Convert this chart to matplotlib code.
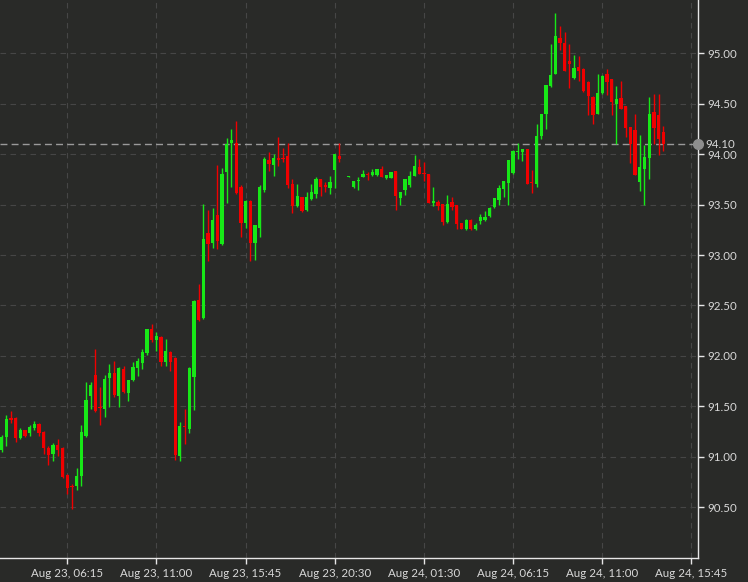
import numpy as np
import matplotlib
matplotlib.use('Agg')
import matplotlib.pyplot as plt

# 15 minute candles (index 73 has no candle)
opens = [91.07, 91.20, 91.38, 91.38, 91.19, 91.26, 91.23, 91.28, 91.32, 91.24,
         91.09, 91.03, 91.12, 91.09, 90.82, 90.71, 90.71, 90.81, 91.21, 91.60,
         91.81, 91.49, 91.47, 91.78, 91.83, 91.60, 91.87, 91.63, 91.76, 91.88,
         91.93, 92.03, 92.27, 92.16, 92.19, 91.94, 92.04, 91.98, 91.01, 91.30,
         91.27, 91.79, 92.55, 92.38, 93.22, 93.12, 93.40, 93.11, 93.82, 94.11,
         94.11, 93.68, 93.32, 93.54, 93.12, 93.27, 93.65, 93.94, 93.89, 93.96,
         93.96, 93.98, 93.70, 93.49, 93.58, 93.45, 93.56, 93.61, 93.75, 93.69,
         93.67, 93.84, 93.98, np.nan, 93.775, 93.68, 93.73, 93.77, 93.80, 93.79,
         93.79, 93.85, 93.76, 93.76, 93.83, 93.57, 93.65, 93.69, 93.78, 93.87,
         93.81, 93.80, 93.52, 93.53, 93.51, 93.33, 93.53, 93.50, 93.32, 93.26,
         93.35, 93.26, 93.34, 93.35, 93.39, 93.48, 93.55, 93.66, 93.71, 93.81,
         94.02, 94.02, 94.05, 93.72, 93.70, 94.18, 94.40, 94.68, 94.80, 95.15,
         95.10, 94.92, 94.76, 94.87, 94.85, 94.72, 94.57, 94.40, 94.61, 94.80,
         94.75, 94.50, 94.56, 94.48, 94.27, 94.24, 93.72, 93.85, 93.96, 94.42,
         94.39, 94.22]
highs = [91.22, 91.41, 91.45, 91.39, 91.28, 91.26, 91.31, 91.35, 91.33, 91.25,
         91.11, 91.14, 91.18, 91.10, 90.83, 90.73, 90.89, 91.31, 91.74, 91.74,
         92.07, 91.69, 91.81, 91.92, 91.95, 91.89, 91.90, 91.76, 91.94, 91.98,
         92.07, 92.27, 92.32, 92.24, 92.20, 92.17, 92.05, 91.99, 91.34, 91.47,
         91.89, 92.55, 92.71, 93.51, 93.45, 93.47, 93.89, 93.86, 94.16, 94.25,
         94.33, 93.69, 93.55, 93.55, 93.30, 93.69, 93.97, 94.02, 94.00, 94.17,
         94.06, 94.11, 93.75, 93.70, 93.58, 93.63, 93.70, 93.77, 93.75, 93.72,
         93.78, 94.00, 94.11, np.nan, 93.785, 93.73, 93.77, 93.84, 93.82, 93.85,
         93.85, 93.88, 93.79, 93.82, 93.83, 93.63, 93.75, 93.83, 93.99, 93.95,
         93.92, 93.80, 93.68, 93.55, 93.51, 93.60, 93.58, 93.50, 93.32, 93.36,
         93.36, 93.32, 93.41, 93.44, 93.48, 93.57, 93.69, 93.73, 93.94, 94.04,
         94.11, 94.05, 94.05, 93.84, 94.30, 94.40, 94.69, 95.09, 95.40, 95.27,
         95.21, 95.09, 94.98, 94.97, 94.86, 94.73, 94.58, 94.80, 94.79, 94.85,
         94.75, 94.68, 94.73, 94.48, 94.27, 94.40, 94.19, 94.09, 94.57, 94.60,
         94.60, 94.28]
lows = [91.05, 91.11, 91.33, 91.15, 91.18, 91.20, 91.21, 91.26, 91.21, 91.03,
        90.92, 90.96, 91.01, 90.79, 90.63, 90.48, 90.67, 90.71, 91.20, 91.47,
        91.44, 91.31, 91.39, 91.49, 91.59, 91.49, 91.63, 91.55, 91.75, 91.80,
        91.87, 92.01, 92.14, 92.05, 91.90, 91.90, 91.85, 90.97, 90.96, 91.13,
        91.23, 91.46, 92.35, 92.37, 92.94, 93.07, 93.06, 93.10, 93.52, 93.68,
        93.61, 93.18, 93.27, 92.94, 92.95, 93.18, 93.63, 93.83, 93.78, 93.88,
        93.92, 93.67, 93.42, 93.48, 93.43, 93.44, 93.55, 93.57, 93.59, 93.63,
        93.61, 93.67, 93.92, np.nan, 93.77, 93.67, 93.65, 93.77, 93.74, 93.78,
        93.78, 93.77, 93.75, 93.76, 93.45, 93.50, 93.60, 93.68, 93.78, 93.80,
        93.73, 93.52, 93.49, 93.45, 93.30, 93.32, 93.45, 93.26, 93.26, 93.25,
        93.25, 93.25, 93.31, 93.34, 93.38, 93.47, 93.50, 93.58, 93.50, 93.80,
        93.95, 93.93, 93.70, 93.62, 93.68, 94.15, 94.25, 94.67, 94.80, 95.03,
        94.83, 94.66, 94.75, 94.73, 94.62, 94.39, 94.30, 94.40, 94.60, 94.59,
        94.39, 94.10, 94.45, 94.17, 93.91, 93.79, 93.64, 93.50, 93.75, 94.10,
        93.99, 94.03]
closes = [91.20, 91.37, 91.36, 91.19, 91.26, 91.21, 91.29, 91.32, 91.23, 91.09,
          91.02, 91.12, 91.07, 90.80, 90.69, 90.70, 90.81, 91.24, 91.56, 91.71,
          91.45, 91.48, 91.77, 91.83, 91.61, 91.88, 91.64, 91.76, 91.89, 91.95,
          92.04, 92.27, 92.16, 92.20, 91.94, 92.05, 91.94, 91.02, 91.30, 91.29,
          91.88, 92.54, 92.36, 93.16, 93.11, 93.35, 93.14, 93.80, 94.10, 94.14,
          93.62, 93.32, 93.54, 93.12, 93.30, 93.68, 93.95, 93.90, 93.96, 93.94,
          93.95, 93.69, 93.49, 93.59, 93.44, 93.58, 93.63, 93.75, 93.68, 93.68,
          93.72, 94.00, 93.95, np.nan, 93.78, 93.73, 93.74, 93.80, 93.79, 93.82,
          93.85, 93.77, 93.79, 93.82, 93.59, 93.63, 93.75, 93.78, 93.88, 93.80,
          93.80, 93.52, 93.53, 93.49, 93.33, 93.51, 93.48, 93.31, 93.26, 93.35,
          93.26, 93.30, 93.38, 93.38, 93.47, 93.57, 93.67, 93.73, 93.94, 94.03,
          94.03, 94.05, 93.70, 93.71, 94.18, 94.40, 94.69, 94.79, 95.17, 95.10,
          94.83, 94.90, 94.86, 94.83, 94.63, 94.58, 94.39, 94.61, 94.78, 94.72,
          94.52, 94.55, 94.45, 94.26, 94.10, 93.79, 93.87, 93.97, 94.40, 94.26,
          94.15, 94.10]

tick_pos = [14, 33, 52, 71, 90, 109, 128, 147]
tick_labels = ['Aug 23, 06:15', 'Aug 23, 11:00', 'Aug 23, 15:45', 'Aug 23, 20:30',
               'Aug 24, 01:30', 'Aug 24, 06:15', 'Aug 24, 11:00', 'Aug 24, 15:45']
y_ticks = [90.5, 91.0, 91.5, 92.0, 92.5, 93.0, 93.5, 94.0, 94.5, 95.0]
last_price = 94.10

bg = '#292a28'
up_col = '#17e817'
down_col = '#f00000'
txt_col = '#d8d8d8'
font = ['Lato', 'DejaVu Sans']
fsize = 8.3

o = np.array(opens)
h = np.array(highs)
l = np.array(lows)
c = np.array(closes)
x = np.arange(len(o))
ok = ~np.isnan(o)
up = c >= o
cols = np.where(up, up_col, down_col)

fig = plt.figure(figsize=(7.48, 5.82), dpi=100, facecolor=bg)
ax = fig.add_axes([0, 24 / 582, 698 / 748, 558 / 582])
ax.set_facecolor(bg)

# wicks then bodies
ax.vlines(x[ok], l[ok], h[ok], colors=cols[ok], linewidth=1.0, zorder=3)
body_lo = np.minimum(o, c)
body_h = np.maximum(np.abs(c - o), 0.012)
ax.bar(x[ok], body_h[ok], bottom=body_lo[ok], width=0.7, color=cols[ok],
       linewidth=0, zorder=4)

ax.set_xlim(-0.32, 148.4)
ax.set_ylim(89.995, 95.53)

ax.set_xticks(tick_pos)
ax.set_xticklabels(tick_labels)
ax.set_yticks(y_ticks)
ax.set_yticklabels(['%.2f' % v for v in y_ticks])
ax.yaxis.tick_right()

for side in ['left', 'top']:
    ax.spines[side].set_visible(False)
for side in ['right', 'bottom']:
    ax.spines[side].set_color('#e6e6e6')
    ax.spines[side].set_linewidth(1.0)

ax.tick_params(axis='both', colors='#e6e6e6', labelcolor=txt_col, length=4,
               width=1, direction='out', labelsize=fsize, pad=3)
for lab in ax.get_xticklabels() + ax.get_yticklabels():
    lab.set_family(font)

ax.grid(True, color='#464646', linestyle=(0, (5, 4)), linewidth=0.8, zorder=0)
ax.set_axisbelow(True)

# last price marker
ax.axhline(last_price, color='#9a9a9a', linestyle=(0, (5, 3)), linewidth=1, zorder=2)
ax.plot([1.0], [last_price], 'o', color='#8e8e8e', markersize=7, clip_on=False,
        transform=ax.get_yaxis_transform(), zorder=6)
ax.annotate('%.2f' % last_price, xy=(1.0, last_price),
            xycoords=('axes fraction', 'data'), xytext=(5.5, 0),
            textcoords='offset points', va='center', ha='left',
            color=txt_col, fontsize=fsize, family=font)

fig.savefig('out.png', dpi=100, facecolor=bg)
